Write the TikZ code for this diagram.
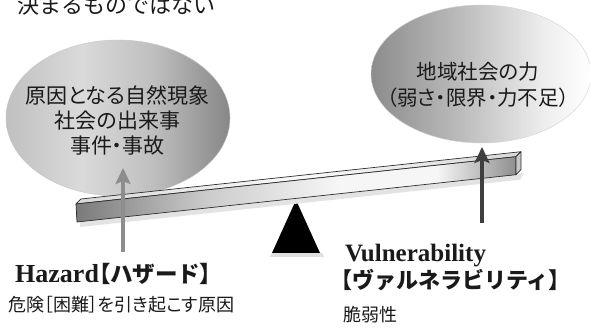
\documentclass[tikz,border=0pt]{standalone}
\usepackage{fontspec}
\setmainfont{Liberation Serif}
\newfontfamily\cjk{Noto Sans CJK JP}
\newfontfamily\cjkp[RawFeature=+palt]{Noto Sans CJK JP}
\usetikzlibrary{arrows.meta,shapes.geometric}
\definecolor{leA}{HTML}{C0C0C0}
\definecolor{leB}{HTML}{DADADA}
\definecolor{leC}{HTML}{BEBEBE}
\definecolor{leD}{HTML}{878787}
\definecolor{reA}{HTML}{8C8C8C}
\definecolor{reB}{HTML}{BDBDBD}
\definecolor{reC}{HTML}{EDEDED}
\definecolor{reD}{HTML}{FFFFFF}
\definecolor{bmA}{HTML}{7A7A7A}
\definecolor{bmB}{HTML}{CCCCCC}
\definecolor{bmC}{HTML}{F6F6F6}
\definecolor{bmD}{HTML}{8E8E8E}
\definecolor{btA}{HTML}{D8D8D8}
\definecolor{btB}{HTML}{FAFAFA}
\definecolor{edgec}{HTML}{2E2E2E}
\definecolor{hzArrow}{HTML}{8D8D8D}
\definecolor{vlArrow}{HTML}{3F3F3F}
\definecolor{txtc}{HTML}{1A1A1A}
\pgfdeclarehorizontalshading{leftell}{100bp}{color(0bp)=(leA); color(25bp)=(leA); color(42bp)=(leB); color(58bp)=(leC); color(75bp)=(leD); color(100bp)=(leD)}
\pgfdeclarehorizontalshading{rightell}{100bp}{color(0bp)=(reA); color(25bp)=(reA); color(46bp)=(reB); color(64bp)=(reC); color(75bp)=(reD); color(100bp)=(reD)}
\pgfdeclarehorizontalshading{beamfront}{100bp}{color(0bp)=(bmA); color(25bp)=(bmA); color(40bp)=(bmB); color(55bp)=(bmC); color(66bp)=(bmC); color(75bp)=(bmD); color(100bp)=(bmD)}
\pgfdeclarehorizontalshading{beamtop}{100bp}{color(0bp)=(btA); color(25bp)=(btA); color(50bp)=(btB); color(75bp)=(btA); color(100bp)=(btA)}
\begin{document}
\begin{tikzpicture}[x=1pt,y=1pt,
  lbl/.style={inner sep=0pt, text=txtc},
  arr/.style={line width=3.2pt, -{Stealth[length=16pt,width=15pt,inset=3pt]}},
  edgeline/.style={draw=edgec, line width=0.7pt, line join=round}]
\useasboundingbox (0,0) rectangle (590,331);
\clip (0,0) rectangle (590,331);
\fill[white] (0,0) rectangle (590,331);

% ellipses
\node (hazEll) [ellipse, minimum width=224pt, minimum height=156pt, inner sep=0pt,
  shade, shading=leftell, draw=gray!45, line width=0.4pt] at (118,213) {};
\node (vulEll) [ellipse, minimum width=220pt, minimum height=138pt, inner sep=0pt,
  shade, shading=rightell, draw=gray!35, line width=0.4pt] at (481,257) {};

% title (cut off at the top, as in the original)
\node (title) [lbl, anchor=base west, font=\cjk\fontsize{22}{26}\selectfont] at (17,317.5) {決まるものではない};

% ellipse texts
\node (hazTxt) [lbl, align=center, font=\cjkp\fontsize{21}{25}\selectfont] at (117.5,211) {原因となる自然現象\\社会の出来事\\事件・事故};
\node (vulTxt) [lbl, align=center, font=\cjkp\fontsize{20.5}{26}\selectfont] at (478,246) {地域社会の力\\（弱さ・限界・力不足）};

% fulcrum
\fill[gray!25] (270,74) -- (324,74) -- (322,78) -- (272,78) -- cycle;
\fill[black] (272,78) -- (320,78) -- (296,131) -- cycle;

% beam
\coordinate (FTL) at (76,127);
\coordinate (BTL) at (81,132);
\coordinate (BTR) at (521,179.3);
\coordinate (FTR) at (516,174.3);
\coordinate (FBR) at (516,156.3);
\coordinate (BBR) at (521,161.3);
\coordinate (FBL) at (77,109);
\fill[gray!22] (80,104) -- (520,151.3) -- (524,158) -- (80,110) -- cycle;
\shade[shading=beamtop, edgeline] (FTL) -- (BTL) -- (BTR) -- (FTR) -- cycle;
\shade[shading=beamfront, edgeline] (FBL) -- (FTL) -- (FTR) -- (FBR) -- cycle;
\fill[gray!45, edgeline] (FTR) -- (BTR) -- (BBR) -- (FBR) -- cycle;

% arrows
\coordinate (hzTail) at (123,79);
\coordinate (hzTip) at (123,163);
\coordinate (vlTail) at (482,108);
\coordinate (vlTip) at (482,184);
\draw[arr, hzArrow] (hzTail) -- (hzTip);
\draw[arr, vlArrow] (vlTail) -- (vlTip);

% labels
\node (hazLbl) [lbl, anchor=base west] at (15,48) {\fontsize{26}{30}\selectfont\bfseries Hazard{\fontsize{22.5}{26}\selectfont\bfseries{\cjkp 【}{\cjk ハザード}{\cjkp 】}}};
\node (hazSub) [lbl, anchor=west, font=\cjkp\fontsize{18}{20}\selectfont] at (8,26) {危険［困難］を引き起こす原因};
\node (vulLbl) [lbl, anchor=base west, font=\bfseries\fontsize{25}{30}\selectfont] at (345,69) {Vulnerability};
\node (vulKana) [lbl, anchor=west, font=\bfseries\fontsize{22}{26}\selectfont] at (341,51) {{\cjkp 【}{\cjk ヴァルネラビリティ}{\cjkp 】}};
\node (vulSub) [lbl, anchor=west, font=\cjk\fontsize{18}{22}\selectfont] at (343,16) {脆弱性};
\end{tikzpicture}
\end{document}
